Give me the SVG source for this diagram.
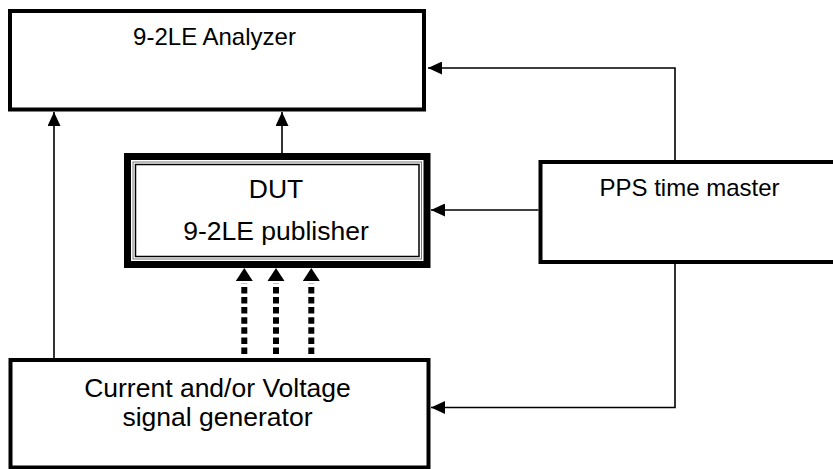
<svg xmlns="http://www.w3.org/2000/svg" width="833" height="469" viewBox="0 0 833 469">
<style>
.box{fill:#fff;stroke:#000;stroke-width:4}
.lbl{font-family:"Liberation Sans",Arial,sans-serif;font-size:24px;fill:#000;text-anchor:middle}
.big{font-size:26.5px}
.conn{fill:none;stroke:#000;stroke-width:1.6}
.dot{fill:none;stroke:#000;stroke-width:6;stroke-dasharray:6.5 3.6}
</style>
<defs>
<marker id="arr" viewBox="0 0 14 13" refX="14" refY="6.5" markerWidth="14" markerHeight="13" markerUnits="userSpaceOnUse" orient="auto">
<path d="M0,0 L14,6.5 L0,13 z" fill="#000"/>
</marker>
</defs>
<g id="analyzer">
<rect class="box" x="10" y="11" width="414" height="98.5"/>
<text class="lbl" x="214.5" y="45">9-2LE Analyzer</text>
</g>
<g id="dut">
<rect x="127.5" y="156.5" width="299.5" height="108" fill="#fff" stroke="#000" stroke-width="7"/>
<rect x="133" y="162" width="288.5" height="97" fill="none" stroke="#777" stroke-width="1"/>
<rect x="135.5" y="164.5" width="283.5" height="92" fill="none" stroke="#000" stroke-width="1.5"/>
<text class="lbl big" x="276" y="198">DUT</text>
<text class="lbl big" x="276" y="240">9-2LE publisher</text>
</g>
<g id="pps">
<rect class="box" x="540.5" y="162" width="300" height="100"/>
<text class="lbl" x="689.5" y="196">PPS time master</text>
</g>
<g id="generator">
<rect class="box" x="10.5" y="360" width="418" height="107.5"/>
<text class="lbl big" x="217.5" y="397">Current and/or Voltage</text>
<text class="lbl big" x="217.5" y="426">signal generator</text>
</g>
<g id="connectors">
<path class="conn" d="M54,358 L54,112" marker-end="url(#arr)"/>
<path class="conn" d="M282,153 L282,112" marker-end="url(#arr)"/>
<path class="conn" d="M675,160 L675,68 L428,68" marker-end="url(#arr)"/>
<path class="conn" d="M538.5,210 L431,210" marker-end="url(#arr)"/>
<path class="conn" d="M675,264 L675,407.5 L431,407.5" marker-end="url(#arr)"/>
<path class="dot" d="M244.3,354 L244.3,283"/>
<path class="dot" d="M276,354 L276,283"/>
<path class="dot" d="M311.3,354 L311.3,283"/>
<path d="M235.8,281 L244.3,268 L252.8,281 z" fill="#000"/>
<path d="M267.5,281 L276,268 L284.5,281 z" fill="#000"/>
<path d="M302.8,281 L311.3,268 L319.8,281 z" fill="#000"/>
</g>
</svg>
